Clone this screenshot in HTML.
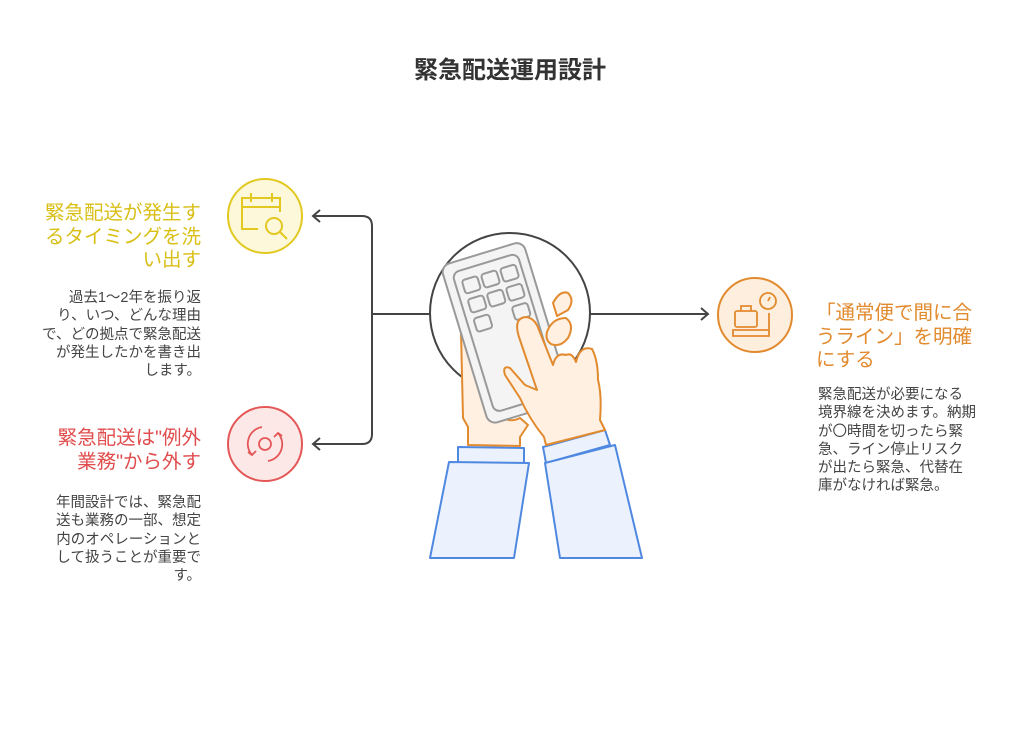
<!DOCTYPE html>
<html><head><meta charset="utf-8"><style>
body{margin:0;width:1020px;height:732px;background:#fff;position:relative;font-family:"Liberation Sans","Noto Sans CJK JP",sans-serif;overflow:hidden}
.t{position:absolute;white-space:nowrap}
.r{text-align:right}
.h{font-size:19.5px;line-height:23.5px}
.b{font-size:14.5px;line-height:18.3px;color:#444}
</style></head><body>
<div class="t" style="left:0;width:1020px;text-align:center;top:50px;font-size:24px;font-weight:bold;color:#333">緊急配送運用設計</div>

<svg width="1020" height="732" style="position:absolute;left:0;top:0">
<g fill="none" stroke="#444" stroke-width="2">
<path d="M314 216 H362 Q372 216 372 226 V434 Q372 444 362 444 H314"/>
<path d="M372 314 H430"/>
<path d="M590 314 H707"/>
<path d="M320 210 L313 216 L320 222"/>
<path d="M320 438 L313 444 L320 450"/>
<path d="M701 308 L708 314 L701 320"/>
<circle cx="510" cy="313" r="80"/>
</g>
<circle cx="265" cy="216" r="37" fill="#fdf8d9" stroke="#e2c820" stroke-width="2"/>
<g fill="none" stroke="#e2c820" stroke-width="2"><path d="M258 229h-16v-31h38v14"/><path d="M242 207h38M251 193v9M272 193v9"/><circle cx="274" cy="226" r="8" fill="#fdf8d9"/><path d="M280 232l7 7"/></g>
<circle cx="265" cy="444" r="37" fill="#fde8e8" stroke="#e45757" stroke-width="2"/>
<g fill="none" stroke="#e45757" stroke-width="1.8"><path d="M252 455a17 17 0 0 1 10-28M278 433a17 17 0 0 1 -10 28"/><circle cx="265" cy="444" r="6"/><path d="M248 452l4 3 4-4M282 436l-4-3-4 4"/></g>
<circle cx="755" cy="315" r="37" fill="#fdeede" stroke="#e28a2e" stroke-width="2"/>
<g fill="none" stroke="#e28a2e" stroke-width="1.8"><rect x="735" y="311" width="22" height="16" rx="2"/><path d="M741 311v-5h10v5M733 330h36v6h-36zM769 330v-17"/><circle cx="768" cy="301" r="8"/><path d="M768 301l2-4"/></g>

<g fill="#ebf2fd" stroke="#4f88e0" stroke-width="2" stroke-linejoin="round">
<path d="M458 447 L524 448 L524 463 L458 463Z"/>
<path d="M449 462 L529 463 L514 558 L430 558Z"/>
<path d="M543 447 L605 430 L610 445 L546 463Z"/>
<path d="M545 463 L615 445 L642 558 L560 558Z"/>
</g>
<path d="M468 445 L468 427 L463 418 L461 332 Q464 325 471 330 Q478 338 479 350 L496 410 Q506 425 520 418 L528 425 L520 437 L520 446Z" fill="#fff0e2" stroke="#e28a2e" stroke-width="2" stroke-linejoin="round"/>
<g transform="rotate(-17 505 330)">
<rect x="462" y="250" width="86" height="166" rx="9" fill="#f4f4f4" stroke="#999" stroke-width="2"/>
<rect x="471" y="260" width="68" height="146" rx="7" fill="none" stroke="#999" stroke-width="2"/>
<g fill="none" stroke="#999" stroke-width="2"><rect x="478" y="270" width="16" height="14" rx="3"/><rect x="498" y="270" width="16" height="14" rx="3"/><rect x="518" y="270" width="16" height="14" rx="3"/><rect x="478" y="290" width="16" height="14" rx="3"/><rect x="498" y="290" width="16" height="14" rx="3"/><rect x="518" y="290" width="16" height="14" rx="3"/><rect x="478" y="310" width="16" height="14" rx="3"/><rect x="518" y="310" width="16" height="14" rx="3"/></g>
</g>
<g fill="#fff0e2" stroke="#e28a2e" stroke-width="2" stroke-linejoin="round">
<path d="M546 445 L544 437 Q530 420 520 398 L505 375 Q502 365 510 368 L525 385 L537 390 L520 340 Q512 318 526 317 Q535 318 539 330 L553 365 Q556 352 566 355 Q572 352 576 362 Q580 345 592 349 Q598 360 598 380 Q602 395 600 420 L605 430Z"/>
<path d="M553 303 Q560 290 568 293 Q575 300 568 310 L557 316 Z"/>
<path d="M547 332 Q552 318 566 318 Q575 325 568 338 Q560 348 551 344 Q545 340 547 332Z"/>
</g>
</svg>

<div class="t r h" style="right:819px;top:202px;color:#d9bf15">緊急配送が発生す<br>るタイミングを洗<br>い出す</div>
<div class="t r b" style="right:819px;top:289px">過去1〜2年を振り返<br>り、いつ、どんな理由<br>で、どの拠点で緊急配送<br>が発生したかを書き出<br>します。</div>
<div class="t r h" style="right:819px;top:427px;color:#e04d4d">緊急配送は"例外<br>業務"から外す</div>
<div class="t r b" style="right:819px;top:494px">年間設計では、緊急配<br>送も業務の一部、想定<br>内のオペレーションと<br>して扱うことが重要で<br>す。</div>
<div class="t h" style="left:816px;top:302px;color:#e28a2e">「通常便で間に合<br>うライン」を明確<br>にする</div>
<div class="t b" style="left:818px;top:386px">緊急配送が必要になる<br>境界線を決めます。納期<br>が〇時間を切ったら緊<br>急、ライン停止リスク<br>が出たら緊急、代替在<br>庫がなければ緊急。</div>
</body></html>
